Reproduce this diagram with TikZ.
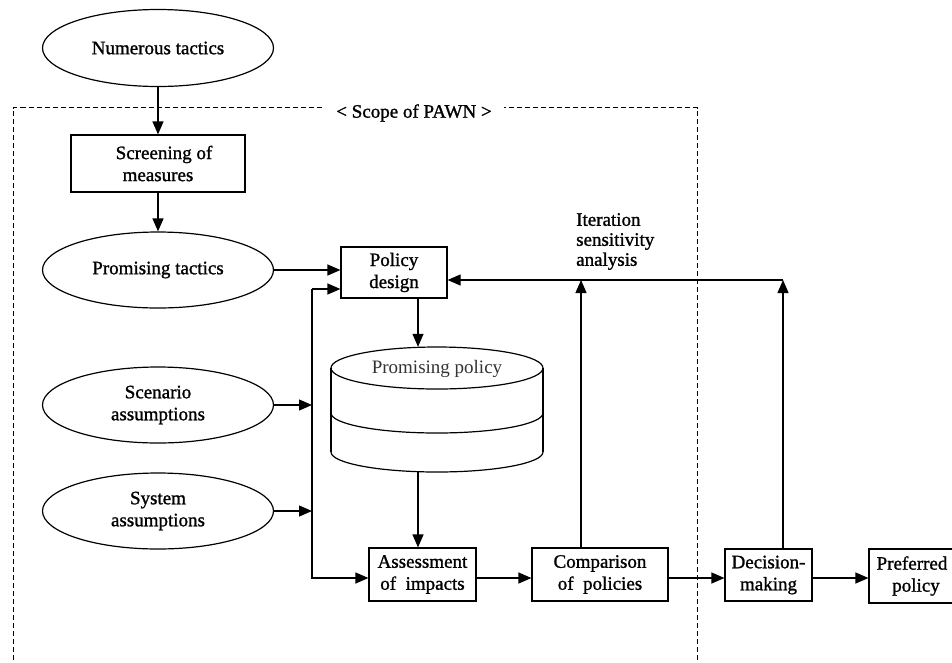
\documentclass[tikz,border=0pt]{standalone}
\usepackage{fontspec}
\setmainfont{Liberation Serif}
\newfontfamily\heavyfont[FakeBold=1.2]{Liberation Serif}
\usetikzlibrary{arrows.meta,shapes.geometric}
\begin{document}
\begin{tikzpicture}[x=1pt,y=-1pt,
  every node/.style={font=\fontsize{19}{22}\heavyfont, inner sep=0pt, align=center},
  ell/.style={draw, ellipse, line width=1.2pt, minimum width=231pt, minimum height=76pt},
  box/.style={draw, rectangle, line width=1.2pt},
  arr/.style={line width=1.2pt, -{Triangle[length=13pt,width=11pt]}},
  scopeline/.style={line width=1pt, dash pattern=on 5pt off 3pt},
  cylline/.style={line width=1.2pt}]
\useasboundingbox (0,0) rectangle (952,662);

% scope of PAWN
\draw[scopeline] (13,668) -- (13,107.5) -- (697,107.5) -- (697,668);
\node[fill=white, inner xsep=12pt, inner ysep=2pt] (scope) at (414,113) {< Scope of PAWN >};

% nodes
\node[ell, minimum height=77pt] (num) at (158,48) {Numerous tactics};
\node[box, minimum width=174pt, minimum height=57pt] (scr) at (158,163.5) {\hspace*{12pt}Screening of\\measures};
\node[ell] (prt) at (158,270) {Promising tactics};
\node[ell] (sce) at (158,405) {Scenario\\assumptions};
\node[ell] (sys) at (158,511) {System\\assumptions};
\node[box, minimum width=106pt, minimum height=51pt] (pol) at (394,272.5) {Policy\\design};

% cylinder
\node[minimum width=212pt, minimum height=125pt] (cyl) at (437,409.5) {};
\draw[cylline] (437,368) ellipse [x radius=106pt, y radius=21pt];
\draw[cylline] (331,368) -- (331,452);
\draw[cylline] (543,368) -- (543,452);
\draw[cylline] (331,413) arc[start angle=180, end angle=360, x radius=106pt, y radius=20pt];
\draw[cylline] (331,452) arc[start angle=180, end angle=360, x radius=106pt, y radius=20pt];
\node[text=black!80, font=\fontsize{19}{22}\rmfamily] (cyltext) at (437,369) {Promising policy};

\node[box, minimum width=107pt, minimum height=53pt] (ass) at (422.5,574.5) {Assessment\\of\ \ impacts};
\node[box, minimum width=136pt, minimum height=53pt] (com) at (600,574.5) {Comparison\\of\ \ policies};
\node[box, minimum width=87pt, minimum height=52pt] (dec) at (768.5,575) {Decision-\\making};
\node[box, minimum width=86pt, minimum height=54pt] (pre) at (912,576) {Preferred\\\hspace*{8pt}policy};
\node[align=left, font=\fontsize{19}{20}\heavyfont, anchor=north west] (iter) at (576,213) {Iteration\\sensitivity\\analysis};

% helper coordinates
\coordinate (bus) at (312,0);
\coordinate (row) at (0,578);
\coordinate (fb) at (0,280);
\coordinate (cx) at (418,0);
\coordinate (cu) at (581,0);
\coordinate (du) at (783,0);
\coordinate (pin) at ([yshift=-16.5pt]pol.west);

% connectors
\draw[arr] (num.south) -- (scr.north);
\draw[arr] (scr.south) -- (prt.north);
\draw[arr] (prt.east) -- (prt.east -| pol.west);
\draw[arr] (bus |- pin) -- (pin);
\draw[arr] (bus |- pin) -- (bus |- row) -- (row -| ass.west);
\draw[arr] (sce.east) -- (sce.east -| bus);
\draw[arr] (sys.east) -- (sys.east -| bus);
\draw[arr] (pol.south -| cx) -- (cyl.north -| cx);
\draw[arr] (cyl.south -| cx) -- (ass.north -| cx);
\draw[arr] (row -| ass.east) -- (row -| com.west);
\draw[arr] (row -| com.east) -- (row -| dec.west);
\draw[arr] (row -| dec.east) -- (row -| pre.west);
\draw[arr] (com.north -| cu) -- (fb -| cu);
\draw[arr] (dec.north -| du) -- (fb -| du);
\draw[arr] (fb -| du) -- (fb -| pol.east);
\end{tikzpicture}
\end{document}
